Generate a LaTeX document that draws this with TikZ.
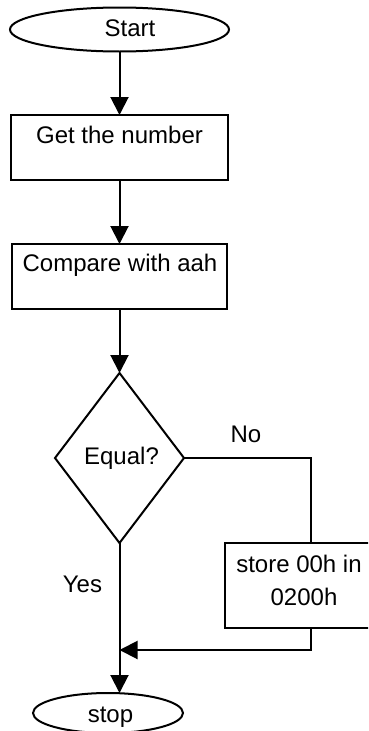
\documentclass[tikz,border=0pt]{standalone}
\usepackage{fontspec}
\setmainfont{Liberation Sans}
\usetikzlibrary{shapes.geometric,arrows.meta}
\begin{document}
\begin{tikzpicture}[x=1pt,y=-1pt,
  every node/.style={outer sep=0pt,inner sep=0pt},
  shapeline/.style={draw,line width=2pt},
  terminal/.style={shapeline,ellipse},
  process/.style={shapeline,rectangle},
  decision/.style={shapeline,diamond},
  txt/.style={anchor=base,font=\fontsize{24}{28}\selectfont},
  flow/.style={line width=2pt,-{Triangle[length=18pt,width=18pt]}},
  plain/.style={line width=2pt}]
\useasboundingbox (0,0) rectangle (368,731);
\clip (0,0) rectangle (368,731);

% shapes
\node[terminal,minimum width=219pt,minimum height=44pt] (start) at (119.5,29.5) {};
\node[process,minimum width=217pt,minimum height=65pt] (get) at (119.5,147.5) {};
\node[process,minimum width=215pt,minimum height=65pt] (cmp) at (119.5,276.5) {};
\node[decision,minimum width=129pt,minimum height=170pt] (eq) at (119.5,458) {};
\node[process,minimum width=147pt,minimum height=85pt] (store) at (298.5,585.5) {};
\node[terminal,minimum width=150pt,minimum height=40pt] (stop) at (108,713) {};
\coordinate (join) at (119.5,650);

% texts
\node[txt] (tstart) at (130,36) {Start};
\node[txt] (tget) at (119.5,143) {Get the number};
\node[txt] (tcmp) at (120,271) {Compare with aah};
\node[txt] (teq) at (121.5,464) {Equal?};
\node[txt] (tno) at (246,442) {No};
\node[txt] (tyes) at (82.5,592) {Yes};
\node[txt] (tstore1) at (299,572) {store 00h in};
\node[txt] (tstore2) at (304,605) {0200h};
\node[txt] (tstop) at (110.5,722) {stop};

% connectors
\draw[flow] (start.south) -- (get.north);
\draw[flow] (get.south) -- (cmp.north);
\draw[flow] (cmp.south) -- (eq.north);
\draw[plain] (eq.east) -| ([xshift=12.5pt]store.north);
\draw[flow] ([xshift=12.5pt]store.south) |- (join);
\draw[flow] (eq.south) -- (eq.south |- stop.north);
\end{tikzpicture}
\end{document}
